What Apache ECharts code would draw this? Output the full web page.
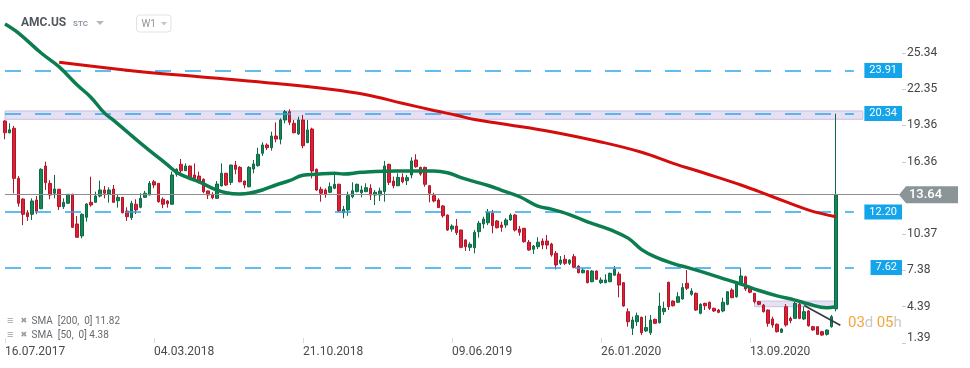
<!DOCTYPE html>
<html><head><meta charset="utf-8">
<script src="https://cdn.jsdelivr.net/npm/echarts@6/dist/echarts.min.js"></script>
<style>html,body{margin:0;padding:0;background:#fff}#c{width:970px;height:368px}</style>
</head><body><div id="c"></div>
<script>
// ---------- data ----------
const startDate = [2017, 7, 16];      // first weekly candle (16.07.2017)
const weekCount = 199;                // weekly slots on the axis (incl. empty room at the right)
const dateTickIdx = [0, 33, 66, 99, 132, 165];
const yTicks = [1.39, 4.39, 7.38, 10.37, 13.37, 16.36, 19.36, 22.35, 25.34];

const opens = [19.73,18.76,19.13,14.99,13.28,12.15,12.02,13.20,12.48,16.01,14.58,13.76,14.09,12.65,12.93,13.67,11.22,10.23,11.77,13.01,
13.01,13.53,14.03,13.70,14.11,13.14,13.42,12.29,11.74,12.85,12.60,13.42,13.61,14.71,14.58,13.26,13.12,12.85,15.33,16.15,
15.62,16.01,15.27,15.18,14.91,13.95,13.67,13.34,14.36,15.41,14.66,16.09,15.90,14.77,14.30,15.76,16.04,17.06,17.75,17.52,
18.49,18.22,19.81,20.50,19.54,18.66,19.81,17.94,19.07,15.74,14.09,14.03,13.84,14.17,14.50,12.15,12.38,13.47,13.89,13.80,
13.89,14.17,13.61,13.61,13.89,16.15,14.77,14.38,15.07,14.80,15.27,16.51,15.90,15.90,14.38,13.56,13.20,12.71,11.96,10.80,
11.05,10.72,9.90,9.29,9.26,10.58,11.22,11.32,12.10,11.47,11.13,11.13,11.55,11.96,10.80,10.86,9.71,9.13,9.34,9.81,
9.81,9.56,8.80,7.97,8.30,7.97,8.52,7.74,7.19,7.36,6.45,7.33,6.37,6.37,6.45,6.99,7.08,6.37,3.97,2.60,
3.14,3.51,2.38,2.23,3.34,3.06,3.97,6.40,4.85,4.75,5.02,6.32,5.41,5.49,3.84,4.66,4.75,4.25,4.11,4.03,
4.58,5.76,5.21,6.32,6.86,5.91,5.49,4.80,4.52,4.11,3.37,2.93,2.27,4.38,3.42,3.42,4.58,3.37,4.03,2.73,
2.73,2.32,2.10,2.73,4.20];
const closes = [18.76,19.00,14.99,12.93,12.02,11.82,13.12,12.29,15.74,14.63,13.61,14.11,12.65,13.01,13.67,10.94,10.12,12.02,12.87,12.79,
13.53,14.03,13.76,14.03,13.01,13.42,12.15,11.82,12.93,12.38,13.34,13.76,14.58,14.44,13.06,12.85,12.90,15.27,15.74,15.62,
16.01,14.99,14.99,14.77,13.89,13.61,13.39,14.52,15.41,14.44,16.09,15.74,14.71,14.44,15.90,16.18,16.98,17.75,17.52,18.49,
18.24,19.81,20.50,19.62,18.76,19.81,17.69,18.99,15.60,14.03,13.76,13.67,14.30,14.50,12.29,12.43,13.56,13.97,14.50,14.03,
14.22,13.61,13.84,13.95,16.01,14.66,14.38,15.07,14.71,15.05,16.43,15.95,15.35,14.50,13.76,13.12,12.57,11.90,10.72,11.05,
10.50,9.29,9.34,9.54,10.53,11.28,11.63,12.18,11.08,10.91,10.94,11.55,11.96,10.72,10.53,9.76,9.07,9.40,9.71,9.48,
9.48,8.66,7.83,8.24,7.97,8.24,7.64,7.19,7.41,6.37,7.33,6.65,6.59,6.59,7.14,7.47,6.17,4.44,3.14,3.28,
3.64,2.23,2.66,3.28,3.01,4.44,4.25,4.38,4.46,5.21,5.96,5.91,5.68,4.11,4.58,4.46,4.25,4.03,3.92,4.75,
5.62,5.13,6.32,6.92,5.85,5.58,4.80,4.58,3.97,3.01,2.87,2.32,2.54,2.87,3.23,4.66,3.42,3.97,2.81,2.46,
2.10,2.04,2.46,3.56,13.64];
const lows = [18.22,18.70,13.75,12.65,11.13,11.47,11.55,12.02,12.45,14.03,13.26,13.34,12.37,12.46,12.90,10.90,10.10,10.03,11.41,12.65,
12.98,13.42,13.34,12.98,12.98,12.57,12.10,11.47,11.55,12.04,12.52,13.40,13.60,14.17,12.98,12.52,12.57,12.83,15.13,15.41,
15.60,14.85,14.85,14.58,13.76,13.28,13.26,13.30,14.33,14.36,14.44,15.33,14.66,14.17,14.25,15.41,15.95,16.84,17.33,17.28,
17.97,17.80,19.54,19.40,18.71,18.57,17.47,17.90,14.99,13.95,13.06,13.39,13.76,14.09,12.20,11.69,11.90,13.34,13.84,13.42,
13.85,13.20,12.79,13.12,13.06,14.44,14.17,14.35,14.58,14.44,14.99,15.87,15.21,14.30,13.01,13.01,12.55,11.74,10.64,10.58,
10.31,9.21,8.99,8.99,8.80,10.09,10.86,11.13,10.45,10.85,10.58,10.90,11.50,10.60,10.25,9.67,9.01,8.74,9.15,9.13,
9.13,8.52,7.47,7.83,7.83,7.83,7.56,7.15,7.14,6.32,6.40,6.60,6.26,6.32,6.40,6.95,5.16,4.38,2.73,2.04,
2.79,2.04,2.30,2.04,2.95,3.00,3.70,4.11,4.40,4.70,4.98,5.76,5.29,4.03,3.75,4.11,4.11,3.95,3.84,3.92,
4.50,5.08,5.13,6.17,5.68,5.50,4.66,4.50,3.90,2.73,2.65,2.25,2.20,2.73,3.01,3.40,3.35,3.28,2.73,2.40,
2.04,1.98,2.00,2.65,4.00];
const highs = [19.80,19.54,19.32,15.18,13.34,12.37,13.34,13.53,15.82,16.37,14.85,15.27,14.10,13.34,13.70,13.72,11.88,12.10,12.93,15.13,
13.89,14.80,14.36,14.25,14.44,13.61,13.45,12.60,13.14,13.26,13.76,13.95,14.77,14.85,14.60,13.42,13.20,15.54,15.82,16.59,
16.23,16.05,16.23,15.54,14.99,13.97,13.84,14.77,16.23,15.45,16.12,16.43,16.00,14.80,16.00,16.51,17.52,17.97,17.89,18.85,
19.62,19.95,20.64,20.70,19.81,20.09,20.23,19.81,19.18,15.80,14.30,14.17,14.66,15.27,14.55,12.71,13.89,14.66,14.55,14.38,
14.58,14.50,14.03,14.22,16.43,16.20,15.13,15.41,15.41,15.27,16.73,16.98,15.95,15.95,14.44,13.80,13.34,12.79,12.00,11.19,
11.63,10.75,9.95,9.71,10.72,11.47,11.82,12.46,12.38,11.55,11.41,11.70,12.10,12.05,11.05,10.90,9.90,9.48,10.12,10.04,
10.31,9.67,8.99,8.57,8.66,8.30,8.74,7.80,7.56,7.40,7.41,7.38,6.81,7.06,7.20,7.74,7.27,6.40,4.25,3.56,
3.89,3.55,3.64,3.70,3.40,5.54,4.80,6.45,4.90,5.58,6.32,7.41,5.91,5.55,4.66,4.71,4.80,4.30,4.20,5.13,
5.65,5.91,6.50,7.56,6.95,6.00,5.50,4.85,4.60,4.15,3.56,3.00,2.60,4.60,3.56,4.80,4.75,4.38,4.11,2.80,
2.75,2.38,2.50,3.70,20.34];

// moving averages, read as [week index, value]
const sma200Points = [[12,24.58],[28,23.89],[43,23.39],[58,22.9],[72,22.35],[80,21.9],[88,21.2],[95,20.6],[100,20.2],[104,19.85],
[110,19.5],[121,18.85],[132,18.0],[141,17.15],[148,16.23],[155,15.41],[163,14.44],[170,13.47],[178,12.37],[184,11.82]];
const sma50Points = [[0,27.75],[3,27.0],[8,25.35],[12,24.2],[16,22.7],[19,21.7],[22,20.4],[24,19.8],[27,18.85],[30,17.9],
[33,17.0],[36,16.1],[38,15.5],[40,15.13],[43,14.7],[46,14.17],[49,13.8],[52,13.7],[54,13.76],[57,14.03],
[60,14.44],[63,14.8],[66,15.25],[69,15.33],[73,15.41],[75,15.35],[79,15.49],[87,15.6],[95,15.6],[98,15.45],
[101,15.05],[104,14.72],[107,14.4],[110,14.0],[114,13.47],[118,12.7],[121,12.45],[125,12.0],[129,11.4],[131,11.15],
[134,10.75],[138,10.05],[141,9.1],[144,8.5],[148,7.95],[152,7.53],[156,7.08],[160,6.6],[163,6.25],[167,5.72],
[171,5.28],[175,4.93],[178,4.6],[182,4.3],[184,4.38]];
const trendPoints = [[177, 4.48], [185, 2.85]];

const levels = [23.91, 20.34, 12.20, 7.62];
const lastPrice = 13.64;
const zones = [[0, 190, 20.56, 19.87], [166, 184, 4.85, 4.38]]; // [fromIdx, toIdx, top, bottom]
const levelEndIdx = 188;
const legendLines = ['SMA  [200,  0] 11.82', 'SMA  [50,  0] 4.38'];

// ---------- build ----------
const categories = [];
for (let i = 0; i < weekCount; i++) {
  const d = new Date(Date.UTC(startDate[0], startDate[1] - 1, startDate[2] + 7 * i));
  const dd = String(d.getUTCDate()).padStart(2, '0');
  const mm = String(d.getUTCMonth() + 1).padStart(2, '0');
  categories.push(dd + '.' + mm + '.' + d.getUTCFullYear());
}
const candles = opens.map((o, i) => [o, closes[i], lows[i], highs[i]]);

const FONT = 'Roboto, "Open Sans", sans-serif';
const chart = echarts.init(document.getElementById('c'), null, {renderer: 'canvas'});
const showIdx = (i) => dateTickIdx.indexOf(i) >= 0;

chart.setOption({
  animation: false,
  textStyle: {fontFamily: FONT},
  grid: {left: 5, right: 71, top: 10, bottom: 25, containLabel: false},
  xAxis: {
    type: 'category', data: categories, boundaryGap: false,
    axisLine: {show: false},
    axisTick: {show: true, inside: true, length: 5, interval: showIdx, lineStyle: {color: '#dddddd'}},
    axisLabel: {interval: showIdx, align: 'left', color: '#4a4a4a', fontSize: 12, margin: 3, fontFamily: FONT},
    splitLine: {show: false}
  },
  yAxis: {
    type: 'value', position: 'right', min: 1.383, max: 28.904, offset: 3,
    axisLine: {show: false},
    axisTick: {show: true, customValues: yTicks, length: 4, lineStyle: {color: '#cccccc'}},
    axisLabel: {customValues: yTicks, color: '#444', fontSize: 12, margin: 5, fontFamily: FONT,
      formatter: (v) => v === yTicks[0] ? '{lo|' + v.toFixed(2) + '}' : v.toFixed(2),
      rich: {lo: {padding: [0, 0, 10, 0], color: '#444', fontSize: 12, fontFamily: FONT}}},
    splitLine: {show: false}
  },
  series: [
    {
      type: 'line', data: [], silent: true, z: 1,
      markArea: {silent: true, itemStyle: {color: 'rgba(222,214,240,0.75)', borderColor: '#c9bfe2', borderWidth: 1},
        data: zones.map(z => [{coord: [z[0], z[2]]}, {coord: [z[1], z[3]]}])}
    },
    {
      type: 'candlestick', data: candles, barWidth: 3, clip: false, z: 3,
      itemStyle: {color: '#16865a', color0: '#db2234', borderColor: '#0b6b45', borderColor0: '#b3162a', borderWidth: 1},
      markLine: {silent: true, symbol: ['none', 'none'], animation: false,
        label: {show: false},
        data: levels.map(v => [{coord: [0, v], lineStyle: {color: '#2aa7ea', width: 1.6, type: [16, 14]}},
                               {coord: [levelEndIdx, v]}]).concat([
          [{coord: [0, lastPrice], lineStyle: {color: '#8d8d8d', width: 1, type: 'solid'}}, {coord: [weekCount - 1, lastPrice]}]
        ])}
    },
    {type: 'line', data: sma200Points, showSymbol: false, smooth: 0.4, z: 5,
     lineStyle: {color: '#d40c0c', width: 3}},
    {type: 'line', data: sma50Points, showSymbol: false, smooth: 0.4, z: 5,
     lineStyle: {color: '#0b7d4e', width: 3.5}},
    {type: 'line', data: trendPoints, showSymbol: false, z: 6,
     lineStyle: {color: '#333a3f', width: 1.6}}
  ]
});

// ---------- overlay texts (positions from the axes) ----------
const yPx = (v) => chart.convertToPixel({yAxisIndex: 0}, v);
const g = [];
g.push({type: 'text', x: 21, y: 23, style: {text: 'AMC.US', fill: '#52585e', font: 'bold 12px ' + FONT, verticalAlign: 'middle'}});
g.push({type: 'text', x: 73, y: 24, style: {text: 'STC', fill: '#8c98a4', font: 'bold 8px ' + FONT, verticalAlign: 'middle'}});
g.push({type: 'polygon', shape: {points: [[96, 21], [104, 21], [100, 25]]}, style: {fill: '#b8b8b8'}});
g.push({type: 'rect', shape: {x: 136.5, y: 15, width: 34.5, height: 17, r: 3}, style: {fill: '#fff', stroke: '#e2e2e2', lineWidth: 1}});
g.push({type: 'text', x: 141.5, y: 24, style: {text: 'W1', fill: '#8d949a', font: '10px ' + FONT, verticalAlign: 'middle'}});
g.push({type: 'polygon', shape: {points: [[161, 22], [167, 22], [164, 25.5]]}, style: {fill: '#c4c4c4'}});

legendLines.forEach((t, k) => {
  const y = 321.5 + k * 13.5;
  g.push({type: 'text', x: 7, y: y, style: {text: '≡', fill: '#a0a0a0', font: 'bold 11px ' + FONT, verticalAlign: 'middle'}});
  g.push({type: 'text', x: 20.5, y: y - 0.5, style: {text: '✖', fill: '#9a9a9a', font: '8px "DejaVu Sans"', verticalAlign: 'middle'}});
  g.push({type: 'text', x: 31.5, y: y, style: {text: t, fill: '#666a6e', font: '10px ' + FONT, verticalAlign: 'middle'}});
});

levels.forEach(v => {
  g.push({type: 'text', z: 50, x: 902, y: yPx(v), style: {text: v.toFixed(2), fill: '#fff', font: '11px ' + FONT,
    align: 'right', verticalAlign: 'middle', backgroundColor: '#13a4ea', padding: [2, 5, 2, 5]}});
});
const py = yPx(lastPrice);
g.push({type: 'polygon', z: 50, shape: {points: [[899, py], [906, py - 8.5], [958, py - 8.5], [958, py + 8.5], [906, py + 8.5]]},
  style: {fill: '#8b9598'}});
g.push({type: 'text', z: 51, x: 925.5, y: py, style: {text: lastPrice.toFixed(2), fill: '#fff', font: '500 13px ' + FONT,
  align: 'center', verticalAlign: 'middle'}});
g.push({type: 'text', z: 50, x: 848, y: 323, style: {text: '{o|03}{g|d} {o|05}{g|h}', verticalAlign: 'middle',
  rich: {o: {fill: '#f6a43a', font: '15px ' + FONT}, g: {fill: '#c9c9c9', font: '15px ' + FONT}}}});

chart.setOption({graphic: g});
</script></body></html>
